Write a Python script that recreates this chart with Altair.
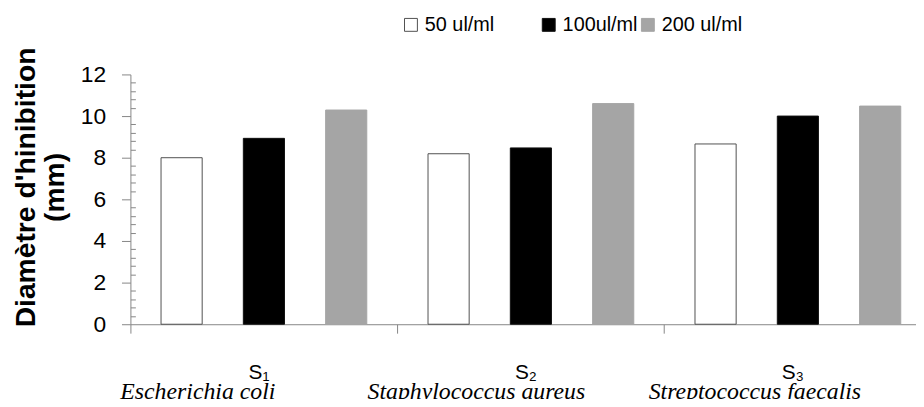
import altair as alt
import pandas as pd

# ---- data ----
species = ["Escherichia coli", "Staphylococcus aureus", "Streptococcus faecalis"]
strains = ["S\u2081", "S\u2082", "S\u2083"]
concentrations = ["50 ul/ml", "100ul/ml", "200 ul/ml"]
v50 = [8.00, 8.19, 8.66]
v100 = [8.93, 8.47, 10.00]
v200 = [10.29, 10.60, 10.48]
y_ticks = [0, 2, 4, 6, 8, 10, 12]
minor_ticks = [0.4, 0.8, 1.2, 1.6, 2.4, 2.8, 3.2, 3.6, 4.4, 4.8, 5.2, 5.6,
               6.4, 6.8, 7.2, 7.6, 8.4, 8.8, 9.2, 9.6, 10.4, 10.8, 11.2, 11.6]

rows = []
for conc, vals in zip(concentrations, [v50, v100, v200]):
    for sp, v in zip(species, vals):
        rows.append({"species": sp, "conc": conc, "value": v})
df = pd.DataFrame(rows)
labels_df = pd.DataFrame({"species": species, "strain": strains})

GRAY = "#868686"
W, H = 808, 252

xscale = alt.Scale(domain=species, paddingInner=0, paddingOuter=0)
# species names sit slightly spread out under the groups in the reference
species_scale = alt.Scale(domain=species, range=[-72.5, 770.5], paddingInner=0, paddingOuter=0)
yscale = alt.Scale(domain=[0, 12], nice=False)

pad = "\u00a0" * 8 + "\u200b"
legend = alt.Legend(
    title=None, orient="none", legendX=273, legendY=-60, direction="horizontal",
    symbolType="square", symbolSize=169, symbolStrokeWidth=1,
    labelFont="Liberation Sans", labelFontSize=20, labelColor="black",
    labelOffset=4, columnPadding=0, padding=0,
    labelExpr="datum.label === '50 ul/ml' ? '50 ul/ml" + pad + "' : datum.label",
)

bars = alt.Chart(df).mark_bar(strokeWidth=1).encode(
    x=alt.X("species:N", sort=species, scale=xscale,
            axis=alt.Axis(title=None, labels=False, bandPosition=0, tickSize=9,
                          tickColor=GRAY, domainColor=GRAY, grid=False)),
    xOffset=alt.XOffset("conc:N", sort=concentrations,
                        scale=alt.Scale(domain=concentrations, paddingInner=0.5, paddingOuter=0.372)),
    y=alt.Y("value:Q", scale=yscale,
            axis=alt.Axis(values=y_ticks, title=["Diamètre d'hinibition", "(mm)"],
                          titleFont="Liberation Sans", titleFontWeight="bold",
                          titleFontSize=28.5, titleColor="black", titleAngle=270,
                          titleX=-120, titleY=113.5, titleBaseline="top", titleAlign="center",
                          titleLineHeight=30,
                          labelFont="Liberation Sans", labelFontSize=23, labelColor="black",
                          labelPadding=16, tickSize=9, tickColor=GRAY, domainColor=GRAY,
                          grid=False)),
    fill=alt.Fill("conc:N", sort=concentrations,
                  scale=alt.Scale(domain=concentrations, range=["#ffffff", "#000000", "#a5a5a5"]),
                  legend=legend),
    stroke=alt.Stroke("conc:N", sort=concentrations,
                      scale=alt.Scale(domain=concentrations, range=["#505050", "#111111", "#a5a5a5"]),
                      legend=legend),
)

minor = alt.Chart(df).mark_point(opacity=0).encode(
    y=alt.Y("value:Q", scale=yscale,
            axis=alt.Axis(orient="left", values=minor_ticks, offset=-5, tickSize=5,
                          labels=False, domain=False, title=None, tickColor=GRAY, grid=False)),
)

strain_text = alt.Chart(labels_df).mark_text(
    font="Liberation Sans", fontSize=21, dx=-5, baseline="alphabetic", color="black"
).encode(
    x=alt.X("species:N", sort=species, scale=xscale, axis=None),
    y=alt.value(307),
    text="strain:N",
)

species_text = alt.Chart(labels_df).mark_text(
    font="Liberation Serif", fontStyle="italic", fontSize=24,
    baseline="alphabetic", color="black"
).encode(
    x=alt.X("species:N", sort=species, scale=species_scale, axis=None),
    y=alt.value(327),
    text="species:N",
)

chart = alt.layer(bars, minor, strain_text, species_text).resolve_scale(
    x="independent"
).resolve_axis(
    x="independent", y="independent"
).properties(
    width=W, height=H,
    autosize=alt.AutoSizeParams(type="none"),
    padding={"left": 123.5, "top": 65.3, "right": -15.5, "bottom": 73.7},
).configure_view(stroke=None)

chart.save("out.html", embed_options={"renderer": "svg", "actions": False})
